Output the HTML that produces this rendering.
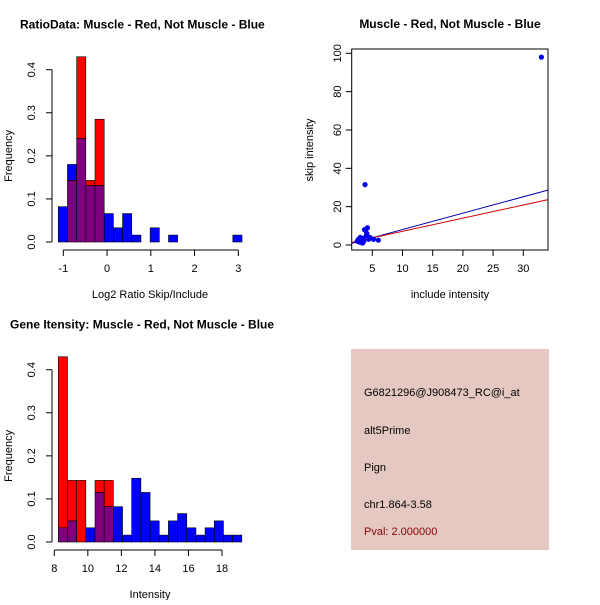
<!DOCTYPE html>
<html><head><meta charset="utf-8"><style>
body{margin:0;background:#fff;font-family:"Liberation Sans",sans-serif}
svg text{font-family:"Liberation Sans",sans-serif}
</style></head><body>
<svg id="c" width="600" height="600" xmlns="http://www.w3.org/2000/svg">
<rect width="600" height="600" fill="#fff"/>
</svg>
<script>
// Ratio histogram data
const ratioBlue=[0.082,0.18,0.24,0.131,0.131,0.066,0.033,0.066,0.016,0,0.033,0,0.016,0,0,0,0,0,0,0.016];
const ratioRed=[0,0.143,0.43,0.143,0.285,0,0,0,0,0,0,0,0,0,0,0,0,0,0,0];
const ratioStart=-1.115, ratioWidth=0.21;
const ratioXTicks=[-1,0,1,2,3];
const freqTicks=[0,0.1,0.2,0.3,0.4];
// Intensity histogram data
const intBlue=[0.033,0.049,0,0.033,0.115,0.082,0.082,0.016,0.148,0.115,0.049,0.016,0.049,0.066,0.033,0.016,0.033,0.049,0.016,0.016];
const intRed=[0.43,0.143,0.143,0,0.143,0.143,0,0,0,0,0,0,0,0,0,0,0,0,0,0];
const intStart=8.24, intWidth=0.547;
const intXTicks=[8,10,12,14,16,18];
// Scatter data
const scX=[33,3.8,2.5,2.7,2.9,3.0,3.2,3.4,3.5,3.7,3.9,4.0,4.2,4.4,3.6,3.3,2.8,4.6,5.2,6.0,3.1,4.1];
const scY=[98,31.5,2,3,1.5,4,2.5,1,3.5,8,7.5,5,9,3,2,1.2,2.8,4,3,2.5,1.8,6];
const sxTicks=[5,10,15,20,25,30];
const syTicks=[0,20,40,60,80,100];
const blueLine=[-0.5,0.855]; // intercept, slope
const redLine=[0.3,0.685];

const svg=document.getElementById('c');
const NS='http://www.w3.org/2000/svg';
function el(tag,attrs,txt){const e=document.createElementNS(NS,tag);for(const k in attrs)e.setAttribute(k,attrs[k]);if(txt!==undefined)e.textContent=txt;svg.appendChild(e);return e;}

function hist(name,x0px,x1px,v0,v1,y0px,y1px,start,w,blue,red,xt,title,tx,xlab,xlabY){
  const sx=v=>x0px+(v-v0)*(x1px-x0px)/(v1-v0);
  const sy=v=>y0px-v*(y0px-y1px)/0.4;
  const t=el('text',{x:tx,y:y1px-41,'font-size':12,'font-weight':'bold'},title);
  
  
  for(let i=0;i<blue.length;i++){
    const a=start+i*w,b=a+w;const xa=sx(a),xb=sx(b);
    const lo=Math.min(blue[i],red[i]),hi=Math.max(blue[i],red[i]);
    if(hi>0){
      const top=el('rect',{x:xa,y:sy(hi),width:xb-xa,height:sy(lo)-sy(hi),fill:red[i]>blue[i]?'#ff0000':'#0000ff',stroke:'#000','stroke-width':0.6});
      
      
    }
    if(lo>0){
      const p=el('rect',{x:xa,y:sy(lo),width:xb-xa,height:sy(0)-sy(lo),fill:'#7f007f',stroke:'#000','stroke-width':0.6});
      
      
    }
  }
  const ax=52;
  const yl=el('line',{x1:ax,y1:sy(0),x2:ax,y2:sy(0.4),stroke:'#000'});
  
  
  freqTicks.forEach(v=>{
    el('line',{x1:ax,x2:ax-6,y1:sy(v),y2:sy(v),stroke:'#000'});
    const tt=el('text',{x:0,y:0,'font-size':11,'text-anchor':'middle',transform:`translate(${ax-17},${sy(v)}) rotate(-90)`},v.toFixed(1));
    
    
  });
  const yt=el('text',{x:0,y:0,'font-size':11,'text-anchor':'middle',transform:`translate(12,${(sy(0)+sy(0.4))/2}) rotate(-90)`},'Frequency');
  
  
  const xa=el('line',{x1:sx(xt[0]),x2:sx(xt[xt.length-1]),y1:y0px+8,y2:y0px+8,stroke:'#000'});
  
  
  xt.forEach(v=>{
    el('line',{x1:sx(v),x2:sx(v),y1:y0px+8,y2:y0px+14,stroke:'#000'});
    const tt=el('text',{x:sx(v),y:y0px+30,'font-size':11,'text-anchor':'middle'},String(v));
    
    
  });
  const xl=el('text',{x:xlabY[0],y:xlabY[1],'font-size':11,'text-anchor':'middle'},xlab);
  
  
}
hist('ratio-hist',63.3,238.3,-1,3,242,69.7,ratioStart,ratioWidth,ratioBlue,ratioRed,ratioXTicks,'RatioData: Muscle - Red, Not Muscle - Blue',20,'Log2 Ratio Skip/Include',[150,298]);
hist('intensity-hist',54.3,222,8,18,542,369.7,intStart,intWidth,intBlue,intRed,intXTicks,'Gene Itensity: Muscle - Red, Not Muscle - Blue',10,'Intensity',[150,598]);

// scatter
(function(){
  const sx=v=>372.3+(v-5)*6.04;
  const sy=v=>245-v*1.917;
  const t=el('text',{x:450,y:28,'font-size':12,'font-weight':'bold','text-anchor':'middle'},'Muscle - Red, Not Muscle - Blue');
  
  
  const box=el('rect',{x:351.7,y:49,width:196.3,height:201,fill:'none',stroke:'#000'});
  
  
  sxTicks.forEach(v=>{
    el('line',{x1:sx(v),x2:sx(v),y1:250,y2:256,stroke:'#000'});
    const tt=el('text',{x:sx(v),y:272,'font-size':11,'text-anchor':'middle'},String(v));
    
    
  });
  syTicks.forEach(v=>{
    el('line',{x1:351.7,x2:345.7,y1:sy(v),y2:sy(v),stroke:'#000'});
    const tt=el('text',{x:0,y:0,'font-size':11,'text-anchor':'middle',transform:`translate(${341},${sy(v)}) rotate(-90)`},String(v));
    
    
  });
  const xl=el('text',{x:450,y:298,'font-size':11,'text-anchor':'middle'},'include intensity');
  
  
  const yl=el('text',{x:0,y:0,'font-size':11,'text-anchor':'middle',transform:'translate(313,150) rotate(-90)'},'skip intensity');
  
  
  const xmin=1.6,xmax=34;
  const cp=el('clipPath',{id:'clp'});
  const cr=document.createElementNS(NS,'rect');cr.setAttribute('x',351.7);cr.setAttribute('y',49);cr.setAttribute('width',196.3);cr.setAttribute('height',201);cp.appendChild(cr);
  [[blueLine,'#0000aa','blue-fit-line'],[redLine,'#cc0000','red-fit-line']].forEach(([l,c,n])=>{
    const ln=el('line',{x1:sx(xmin),y1:sy(l[0]+l[1]*xmin),x2:sx(xmax),y2:sy(l[0]+l[1]*xmax),stroke:c,'stroke-width':1,'clip-path':'url(#clp)'});
    
    
  });
  for(let i=0;i<scX.length;i++){
    const p=el('circle',{cx:sx(scX[i]),cy:sy(scY[i]),r:2.6,fill:'#0000ee'});
    
    
  }
})();

// info box
(function(){
  const b=el('rect',{x:351,y:349,width:198,height:201,fill:'#e5c8c2'});
  
  
  const lines=[['G6821296@J908473_RC@i_at',396,'#000','probe-id'],['alt5Prime',434,'#000','event-type'],['Pign',471,'#000','gene-name'],['chr1.864-3.58',508,'#000','location'],['Pval: 2.000000',535,'#8b0000','pvalue']];
  lines.forEach(([s,y,c,n])=>{
    const t=el('text',{x:364,y:y,'font-size':11,fill:c},s);
    
    
  });
})();
</script>
</body></html>
